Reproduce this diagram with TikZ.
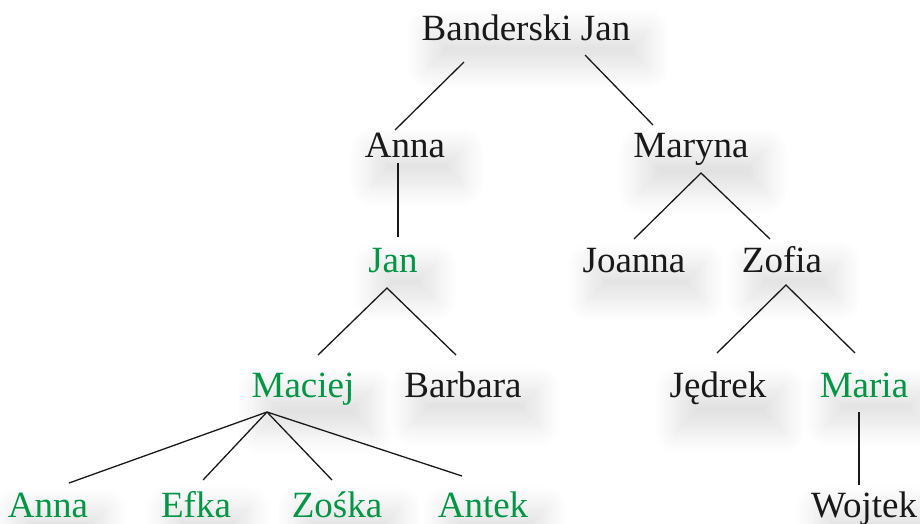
\documentclass[tikz,border=0pt]{standalone}
\usepackage{fontspec}
\setmainfont{Liberation Serif}
\newfontfamily\treefont{Liberation Serif}
\usetikzlibrary{shadows.blur}
\definecolor{kgreen}{RGB}{0,150,70}
\begin{document}
\begin{tikzpicture}[x=1pt,y=-1pt,
  person/.style={anchor=base,inner sep=5pt,font=\treefont\fontsize{37}{40}\selectfont,text=black!90,
    blur shadow={shadow xshift=12pt,shadow yshift=-22pt,shadow blur radius=22pt,shadow opacity=12,shadow blur steps=14}},
  kin/.style={person,text=kgreen},
  link/.style={draw=black!90,line width=1.3pt}]
\useasboundingbox (0,0) rectangle (920,523);
\node[person] (bj) at (526,40) {Banderski Jan};
\node[person] (anna1) at (405,157) {Anna};
\node[person] (maryna) at (691,157) {Maryna};
\node[kin] (jan) at (393,272) {Jan};
\node[person] (joanna) at (634,272) {Joanna};
\node[person] (zofia) at (782,272) {Zofia};
\node[kin] (maciej) at (303,397) {Maciej};
\node[person] (barbara) at (463,397) {Barbara};
\node[person] (jedrek) at (718,397) {Jędrek};
\node[kin] (maria) at (864,397) {Maria};
\node[kin] (anna2) at (48,517) {Anna};
\node[kin] (efka) at (196,517) {Efka};
\node[kin] (zoska) at (337,517) {Zośka};
\node[kin] (antek) at (483,517) {Antek};
\node[person] (wojtek) at (864,517) {Wojtek};
% connector ends
\coordinate (bjL) at (464,62);
\coordinate (bjR) at (585,55);
\coordinate (anna1T) at (395,130);
\coordinate (marynaT) at (653,125);
\coordinate (anna1B) at (398,163);
\coordinate (janT) at (398,237);
\coordinate (marynaB) at (701,173);
\coordinate (joannaT) at (634,239);
\coordinate (zofiaT) at (770,239);
\coordinate (janB) at (387,288);
\coordinate (maciejT) at (318,355);
\coordinate (barbaraT) at (456,355);
\coordinate (zofiaB) at (786,285);
\coordinate (jedrekT) at (717,353);
\coordinate (mariaT) at (855,353);
\coordinate (mariaB) at (859,412);
\coordinate (wojtekT) at (859,485);
\coordinate (maciejB) at (267,412);
\coordinate (anna2T) at (69,483);
\coordinate (efkaT) at (203,480);
\coordinate (zoskaT) at (332,480);
\coordinate (antekT) at (462,476);
\draw[link] (bjL) -- (anna1T);
\draw[link] (bjR) -- (marynaT);
\draw[link] (anna1B) -- (janT);
\draw[link] (joannaT) -- (marynaB) -- (zofiaT);
\draw[link] (maciejT) -- (janB) -- (barbaraT);
\draw[link] (jedrekT) -- (zofiaB) -- (mariaT);
\draw[link] (mariaB) -- (wojtekT);
\draw[link] (maciejB) -- (anna2T);
\draw[link] (maciejB) -- (efkaT);
\draw[link] (maciejB) -- (zoskaT);
\draw[link] (maciejB) -- (antekT);
\end{tikzpicture}
\end{document}
